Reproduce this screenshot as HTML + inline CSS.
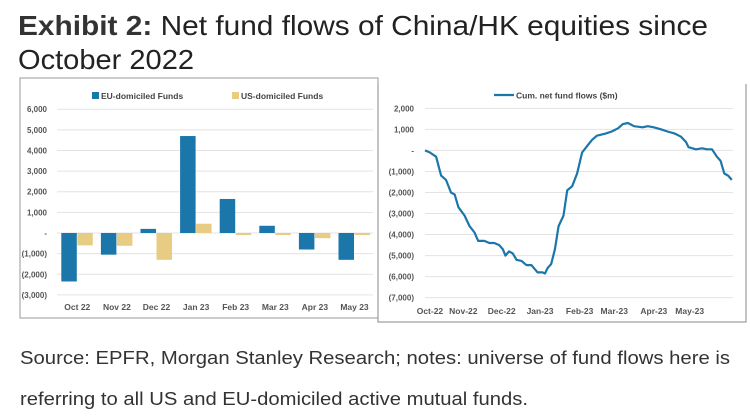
<!DOCTYPE html>
<html><head><meta charset="utf-8"><style>
body{margin:0;background:#fff;}
svg{display:block;font-family:"Liberation Sans",sans-serif;}
</style></head><body>
<svg id="root" width="750" height="419" viewBox="0 0 750 419">
<text x="18" y="35" font-size="28" fill="#222" textLength="690" lengthAdjust="spacingAndGlyphs"><tspan font-weight="bold" fill="#333">Exhibit 2:</tspan> Net fund flows of China/HK equities since</text>
<text x="18" y="69" font-size="28" fill="#222" textLength="176" lengthAdjust="spacingAndGlyphs">October 2022</text>
<rect x="20" y="78" width="358" height="240" fill="none" stroke="#999"/>
<polyline points="378,84 378,322 746,322 746,84" fill="none" stroke="#888"/>
<g id="bars"></g>
<g id="line"></g>
<text x="20" y="364" font-size="18" fill="#333" textLength="710" lengthAdjust="spacingAndGlyphs">Source: EPFR, Morgan Stanley Research; notes: universe of fund flows here is</text>
<text x="20" y="405" font-size="18" fill="#333" textLength="508" lengthAdjust="spacingAndGlyphs">referring to all US and EU-domiciled active mutual funds.</text>
</svg>
<script>
const months=["Oct 22","Nov 22","Dec 22","Jan 23","Feb 23","Mar 23","Apr 23","May 23"];
const euFlows=[-2350,-1050,200,4700,1650,350,-800,-1300];
const usFlows=[-600,-620,-1300,450,-100,-100,-250,-100];
const barTicks=[6000,5000,4000,3000,2000,1000,0,-1000,-2000,-3000];
const lineDays=[0,4,9,13,17,21,24,27,32,36,40,43,48,52,56,60,63,65,68,71,74,78,82,86,91,95,97,99,102,105,108,112,115,119,123,127,131,135,139,146,151,156,160,164,169,176,180,185,191,196,202,207,211,213,219,224,228,232,236,239,242,245,248];
const lineVals=[0,-100,-300,-1200,-1400,-2000,-2100,-2700,-3100,-3600,-3900,-4300,-4300,-4400,-4400,-4500,-4700,-5000,-4800,-4900,-5200,-5250,-5450,-5450,-5800,-5800,-5850,-5600,-5400,-4700,-3600,-3100,-1900,-1700,-1100,-100,200,500,700,800,900,1050,1250,1300,1150,1100,1150,1100,1000,900,800,650,400,150,50,100,50,50,-300,-500,-1100,-1200,-1400];
const lineTicks=[2000,1000,0,-1000,-2000,-3000,-4000,-5000,-6000,-7000];
const lineMonths=["Oct-22","Nov-22","Dec-22","Jan-23","Feb-23","Mar-23","Apr-23","May-23"];
const lineMonthDays=[4,31,62,93,125,153,185,214];
const NS="http://www.w3.org/2000/svg";
function mk(tag,attrs,parent,txt){const e=document.createElementNS(NS,tag);for(const k in attrs)e.setAttribute(k,attrs[k]);if(txt!==undefined)e.textContent=txt;parent.appendChild(e);return e;}
function fmt(v){if(v===0)return "-";const s=Math.abs(v).toLocaleString("en-US");return v<0?"("+s+")":s;}
const BLUE="#1b76aa",GOLD="#e9cc83";
const bg=document.getElementById("bars");
const by=v=>233-v*0.02063;
const bx=i=>77.3+i*39.6;
barTicks.forEach(t=>{
  const g=mk("line",{x1:57,x2:373,y1:by(t),y2:by(t),stroke:"#e3e3e3","stroke-width":1},bg);
  
  
  const l=mk("text",{x:47,y:by(t)+3,"font-size":8,"font-weight":"bold",fill:"#555","text-anchor":"end"},bg,fmt(t));
  
  
});
months.forEach((m,i)=>{
  const e=euFlows[i],u=usFlows[i];
  const r1=mk("rect",{x:bx(i)-16,y:Math.min(by(e),by(0)),width:15.5,height:Math.abs(by(e)-by(0)),fill:BLUE},bg);
  
  
  const r2=mk("rect",{x:bx(i),y:Math.min(by(u),by(0)),width:15.5,height:Math.abs(by(u)-by(0)),fill:GOLD},bg);
  
  
  const t=mk("text",{x:bx(i),y:310,"font-size":8.5,"font-weight":"bold",fill:"#555","text-anchor":"middle"},bg,m);
  
  
});
let le=mk("rect",{x:92,y:92,width:7,height:7,fill:BLUE},bg);


le=mk("text",{x:101,y:99,"font-size":8.5,"font-weight":"bold",fill:"#444"},bg,"EU-domiciled Funds");


le=mk("rect",{x:232,y:92,width:7,height:7,fill:GOLD},bg);


le=mk("text",{x:241,y:99,"font-size":8.5,"font-weight":"bold",fill:"#444"},bg,"US-domiciled Funds");


const lg=document.getElementById("line");
const ly=v=>150.4-v*0.02104;
const lx=d=>425+d*(308/249);
lineTicks.forEach(t=>{
  const g=mk("line",{x1:425,x2:733,y1:ly(t),y2:ly(t),stroke:"#e3e3e3","stroke-width":1},lg);
  
  
  const l=mk("text",{x:414,y:ly(t)+3,"font-size":8,"font-weight":"bold",fill:"#555","text-anchor":"end"},lg,fmt(t));
  
  
});
lineMonths.forEach((m,i)=>{
  const t=mk("text",{x:lx(lineMonthDays[i]),y:314,"font-size":8.5,"font-weight":"bold",fill:"#555","text-anchor":"middle"},lg,m);
  
  
});
const pts=lineDays.map((d,i)=>lx(d).toFixed(1)+","+ly(lineVals[i]).toFixed(1)).join(" ");
const pl=mk("polyline",{points:pts,fill:"none",stroke:BLUE,"stroke-width":2.2,"stroke-linejoin":"round"},lg);


le=mk("line",{x1:494,x2:514,y1:95,y2:95,stroke:BLUE,"stroke-width":2.2},lg);


le=mk("text",{x:516,y:98.5,"font-size":8.5,"font-weight":"bold",fill:"#444"},lg,"Cum. net fund flows ($m)");


</script>
</body></html>
